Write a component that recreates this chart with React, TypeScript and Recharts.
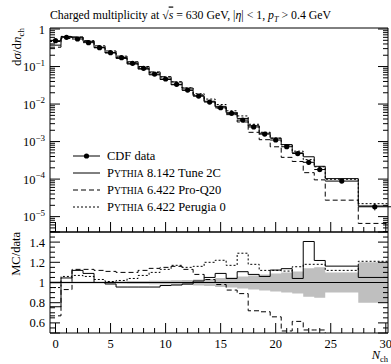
import React from 'react';
import { ComposedChart, Line, Scatter, ErrorBar, XAxis, YAxis, Area, ReferenceLine } from 'recharts';

// ---------- data ----------
const binEdges = [
  -0.5, 0.5, 1.5, 2.5, 3.5, 4.5, 5.5, 6.5, 7.5, 8.5, 9.5, 10.5, 11.5, 12.5, 13.5,
  14.5, 15.5, 16.5, 17.5, 18.5, 19.5, 20.5, 21.5, 22.5, 23.5, 24.5, 27.5, 30.5,
];
const binCenters = [
  0, 1, 2, 3, 4, 5, 6, 7, 8, 9, 10, 11, 12, 13, 14, 15, 16, 17, 18, 19, 20, 21, 22, 23, 24, 26, 29,
];
const cdfData = [
  0.489, 0.6, 0.541, 0.433, 0.318, 0.234, 0.172, 0.122, 0.0895, 0.063, 0.0465, 0.0335, 0.0236,
  0.0163, 0.0113, 0.00796, 0.00565, 0.00374, 0.00245, 0.00158, 0.0011, 0.00073, 0.00048, 0.00028,
  0.00018, 0.0000885, 0.0000183,
];
const cdfRelErr = [
  0.015, 0.01, 0.01, 0.01, 0.01, 0.012, 0.012, 0.015, 0.015, 0.018, 0.02, 0.022, 0.025, 0.03,
  0.035, 0.045, 0.05, 0.06, 0.07, 0.08, 0.09, 0.1, 0.11, 0.14, 0.15, 0.1, 0.2,
];
const ratioTune2C = [
  0.76, 1.045, 1.12, 1.09, 1.0, 0.985, 0.955, 0.955, 0.955, 0.955, 0.97, 0.975, 0.985, 1.015,
  1.05, 1.09, 1.04, 1.107, 1.08, 1.06, 1.123, 1.137, 1.04, 1.406, 1.218, 1.162, 1.05,
];
const ratioProQ20 = [
  0.67, 0.93, 1.13, 1.13, 1.12, 1.11, 1.1, 1.1, 1.12, 1.14, 1.15, 1.16, 1.13, 1.08, 1.03, 0.98,
  0.925, 0.89, 0.72, 0.71, 0.66, 0.52, 0.615, 0.53, 0.53, 0.31, 0.36,
];
const ratioPerugia0 = [
  0.95, 1.06, 1.07, 1.06, 1.03, 1.01, 1.02, 1.04, 1.07, 1.1, 1.13, 1.17, 1.15, 1.16, 1.2, 1.22,
  1.17, 1.29, 1.18, 1.12, 1.12, 1.113, 1.156, 1.18, 1.18, 1.12, 1.21,
];
const xTicks = [0, 1, 2, 3, 4, 5, 6, 7, 8, 9, 10, 11, 12, 13, 14, 15, 16, 17, 18, 19, 20, 21, 22, 23, 24, 25, 26, 27, 28, 29, 30];
const xMajorLabels = ['0', '5', '10', '15', '20', '25', '30'];
const logMajorTicks = [1e-5, 1e-4, 1e-3, 1e-2, 1e-1, 1];
const ratioTicks = [0.5, 0.55, 0.6, 0.65, 0.7, 0.75, 0.8, 0.85, 0.9, 0.95, 1, 1.05, 1.1, 1.15, 1.2, 1.25, 1.3, 1.35, 1.4, 1.45, 1.5];
const ratioLabels = ['0.6', '0.8', '1', '1.2', '1.4'];

// ---------- layout ----------
const W = 391;
const H = 364;
const PL = 50;
const PR = 388;
const TOP = 28;
const MID = 232;
const BOT = 333;
const FONT = "'Liberation Serif', 'DejaVu Serif', serif";
const X_DOMAIN: [number, number] = [-0.5, 30.2];
const LOG_DOMAIN: [number, number] = [Math.pow(10, -5.41), Math.pow(10, 0.027)];

const logTicks: number[] = [];
for (let e = -6; e <= 0; e++) {
  for (let m = 1; m <= 9; m++) {
    const v = m * Math.pow(10, e);
    if (v >= LOG_DOMAIN[0] && v <= LOG_DOMAIN[1]) logTicks.push(v);
  }
}

const stepData = (vals: number[]) =>
  binEdges.map((e, i) => ({ x: e, y: vals[Math.min(i, vals.length - 1)] }));

const mcTop = (ratio: number[]) => stepData(cdfData.map((d, i) => d * ratio[i]));

const topTune = mcTop(ratioTune2C);
const topPro = mcTop(ratioProQ20);
const topPer = mcTop(ratioPerugia0);
const ratTune = stepData(ratioTune2C);
const ratPro = stepData(ratioProQ20);
const ratPer = stepData(ratioPerugia0);
const band = binEdges.map((e, i) => {
  const k = Math.min(i, cdfRelErr.length - 1);
  return { x: e, y: [1 - cdfRelErr[k], 1 + cdfRelErr[k]] };
});
const points = binCenters.map((c, i) => {
  const lo = i < 25 ? c - 0.5 : i === 25 ? 24.5 : 27.5;
  const hi = i < 25 ? c + 0.5 : i === 25 ? 27.5 : 30.5;
  const err = cdfData[i] * cdfRelErr[i];
  return { x: c, y: cdfData[i], ey: [err, err], ex: [c - lo, hi - c] };
});

// ---------- ticks ----------
const isMajorX = (v: number) => xMajorLabels.includes(String(v));

const makeXTick = (dir: 1 | -1, labels: boolean) => (p: any) => {
  const v = p.payload.value;
  const major = isMajorX(v);
  const len = major ? 10 : 5;
  return (
    <g>
      <line x1={p.x} y1={p.y} x2={p.x} y2={p.y + dir * len} stroke="#000" strokeWidth={1} />
      {labels && major && (
        <text x={p.x} y={p.y + 15} textAnchor="middle" fontSize={12.5} fontFamily={FONT} fill="#000">
          {String(v)}
        </text>
      )}
    </g>
  );
};

const isDecade = (v: number) => logMajorTicks.some((m) => Math.abs(m - v) / m < 1e-6);

const makeLogTick = (dir: 1 | -1, labels: boolean) => (p: any) => {
  const v = p.payload.value;
  const major = isDecade(v);
  const len = major ? 10 : 5;
  const e = Math.round(Math.log10(v));
  return (
    <g>
      <line x1={p.x} y1={p.y} x2={p.x + dir * len} y2={p.y} stroke="#000" strokeWidth={1} />
      {labels && major && (
        <text x={p.x - 5} y={p.y + 4.5} textAnchor="end" fontSize={12.5} fontFamily={FONT} fill="#000">
          {e === 0 ? (
            '1'
          ) : (
            <>
              <tspan>10</tspan>
              <tspan dy={-5.5} fontSize={9}>{'\u2212' + Math.abs(e)}</tspan>
            </>
          )}
        </text>
      )}
    </g>
  );
};

const makeRatioTick = (dir: 1 | -1, labels: boolean) => (p: any) => {
  const v = p.payload.value;
  const lbl = ratioLabels.find((l) => Math.abs(parseFloat(l) - v) < 1e-6);
  const major = !!lbl || Math.abs(v - 0.5) < 1e-6 || Math.abs(v - 1.5) < 1e-6;
  const len = major ? 10 : 5;
  return (
    <g>
      <line x1={p.x} y1={p.y} x2={p.x + dir * len} y2={p.y} stroke="#000" strokeWidth={1} />
      {labels && lbl && (
        <text x={p.x - 5} y={p.y + 4.5} textAnchor="end" fontSize={12.5} fontFamily={FONT} fill="#000">
          {lbl}
        </text>
      )}
    </g>
  );
};

const axisLine = { stroke: '#000', strokeWidth: 1 };

const Pythia = ({ rest }: { rest: string }) => (
  <>
    <tspan>P</tspan>
    <tspan fontSize={9.6}>YTHIA</tspan>
    <tspan>{rest}</tspan>
  </>
);

const xAxisCommon = {
  type: 'number' as const,
  domain: X_DOMAIN,
  allowDataOverflow: true,
  ticks: xTicks,
  interval: 0 as const,
  height: 1,
  tickSize: 0,
  tickMargin: 0,
  tickLine: false,
  axisLine,
};

export default function App() {
  const legendRows = [
    { y: 156, label: 'CDF data', dash: undefined as string | undefined, dot: true, py: '' },
    { y: 173, label: '', dash: undefined, dot: false, py: ' 8.142 Tune 2C' },
    { y: 190, label: '', dash: '5 3', dot: false, py: ' 6.422 Pro-Q20' },
    { y: 207, label: '', dash: '2 2', dot: false, py: ' 6.422 Perugia 0' },
  ];
  return (
    <div style={{ position: 'absolute', left: 0, top: 0, width: W, height: H, background: '#fff' }}>
      {/* top panel */}
      <div style={{ position: 'absolute', left: 0, top: 0 }}>
        <ComposedChart
          width={W}
          height={H}
          margin={{ top: TOP - 1, right: W - PR - 1, bottom: H - MID - 1, left: PL - 1 }}
        >
          <XAxis xAxisId="b" dataKey="x" {...xAxisCommon} tick={makeXTick(-1, false)} />
          <XAxis xAxisId="t" orientation="top" {...xAxisCommon} tick={makeXTick(1, false)} />
          <YAxis
            yAxisId="l"
            dataKey="y"
            scale="log"
            type="number"
            domain={LOG_DOMAIN}
            allowDataOverflow
            ticks={logTicks}
            interval={0}
            width={1}
            tickSize={0}
            tickMargin={0}
            tickLine={false}
            axisLine={axisLine}
            tick={makeLogTick(1, true)}
          />
          <YAxis
            yAxisId="r"
            orientation="right"
            scale="log"
            type="number"
            domain={LOG_DOMAIN}
            allowDataOverflow
            ticks={logTicks}
            interval={0}
            width={1}
            tickSize={0}
            tickMargin={0}
            tickLine={false}
            axisLine={axisLine}
            tick={makeLogTick(-1, false)}
          />
          <Line xAxisId="b" yAxisId="l" data={topPer} dataKey="y" type="stepAfter" stroke="#000" strokeWidth={1} strokeDasharray="2 2" dot={false} isAnimationActive={false} />
          <Line xAxisId="b" yAxisId="l" data={topPro} dataKey="y" type="stepAfter" stroke="#000" strokeWidth={1} strokeDasharray="5 3" dot={false} isAnimationActive={false} />
          <Line xAxisId="b" yAxisId="l" data={topTune} dataKey="y" type="stepAfter" stroke="#000" strokeWidth={1} dot={false} isAnimationActive={false} />
          <Scatter
            xAxisId="b"
            yAxisId="l"
            data={points}
            dataKey="y"
            isAnimationActive={false}
            shape={(p: any) => <circle cx={p.cx} cy={p.cy} r={2.6} fill="#000" />}
          >
            <ErrorBar dataKey="ey" direction="y" width={0} stroke="#000" strokeWidth={1} isAnimationActive={false} />
            <ErrorBar dataKey="ex" direction="x" width={0} stroke="#000" strokeWidth={1} isAnimationActive={false} />
          </Scatter>
        </ComposedChart>
      </div>

      {/* ratio panel */}
      <div style={{ position: 'absolute', left: 0, top: 0 }}>
        <ComposedChart
          width={W}
          height={H}
          margin={{ top: MID - 1, right: W - PR - 1, bottom: H - BOT - 1, left: PL - 1 }}
        >
          <XAxis xAxisId="b" dataKey="x" {...xAxisCommon} tick={makeXTick(-1, true)} />
          <XAxis xAxisId="t" orientation="top" {...xAxisCommon} tick={makeXTick(1, false)} />
          <YAxis
            yAxisId="l"
            dataKey="y"
            type="number"
            domain={[0.5, 1.5]}
            allowDataOverflow
            ticks={ratioTicks}
            interval={0}
            width={1}
            tickSize={0}
            tickMargin={0}
            tickLine={false}
            axisLine={axisLine}
            tick={makeRatioTick(1, true)}
          />
          <YAxis
            yAxisId="r"
            orientation="right"
            type="number"
            domain={[0.5, 1.5]}
            allowDataOverflow
            ticks={ratioTicks}
            interval={0}
            width={1}
            tickSize={0}
            tickMargin={0}
            tickLine={false}
            axisLine={axisLine}
            tick={makeRatioTick(-1, false)}
          />
          <Area xAxisId="b" yAxisId="l" data={band} dataKey="y" type="stepAfter" fill="#bfbfbf" fillOpacity={1} stroke="none" isAnimationActive={false} />
          <ReferenceLine xAxisId="b" yAxisId="l" y={1} stroke="#000" strokeWidth={1} />
          <Line xAxisId="b" yAxisId="l" data={ratPer} dataKey="y" type="stepAfter" stroke="#000" strokeWidth={1} strokeDasharray="2 2" dot={false} isAnimationActive={false} />
          <Line xAxisId="b" yAxisId="l" data={ratPro} dataKey="y" type="stepAfter" stroke="#000" strokeWidth={1} strokeDasharray="5 3" dot={false} isAnimationActive={false} />
          <Line xAxisId="b" yAxisId="l" data={ratTune} dataKey="y" type="stepAfter" stroke="#000" strokeWidth={1} dot={false} isAnimationActive={false} />
        </ComposedChart>
      </div>

      {/* labels, title, legend */}
      <svg
        width={W}
        height={H}
        style={{ position: 'absolute', left: 0, top: 0, pointerEvents: 'none' }}
        fontFamily={FONT}
      >
        <text x={50} y={18.5} fontSize={11.8} fill="#000">
          Charged multiplicity at {'\u221A'}
          <tspan fontStyle="italic" textDecoration="overline">s</tspan>
          {' = 630 GeV, |'}
          <tspan fontStyle="italic">{'\u03B7'}</tspan>
          {'| < 1, '}
          <tspan fontStyle="italic">p</tspan>
          <tspan fontStyle="italic" fontSize={8.2} dy={3}>T</tspan>
          <tspan dy={-3}>{' > 0.4 GeV'}</tspan>
        </text>
        <text transform="rotate(-90 21 28)" x={21} y={28} textAnchor="end" fontSize={13} fill="#000">
          d<tspan fontStyle="italic">{'\u03C3'}</tspan>/d<tspan fontStyle="italic">n</tspan>
          <tspan fontSize={9} dy={3}>ch</tspan>
        </text>
        <text transform="rotate(-90 20 232)" x={20} y={232} textAnchor="end" fontSize={12.5} fill="#000">
          MC/data
        </text>
        <text x={388} y={359} textAnchor="end" fontSize={12.5} fill="#000">
          <tspan fontStyle="italic">N</tspan>
          <tspan fontSize={8.5} dy={3}>ch</tspan>
        </text>
        {legendRows.map((r, i) => (
          <g key={i}>
            <line x1={73} x2={100} y1={r.y} y2={r.y} stroke="#000" strokeWidth={1} strokeDasharray={r.dash} />
            {r.dot && <circle cx={86.5} cy={r.y} r={2.6} fill="#000" />}
            <text x={107} y={r.y + 4.2} fontSize={12.5} fill="#000">
              {r.dot ? r.label : <Pythia rest={r.py} />}
            </text>
          </g>
        ))}
      </svg>
    </div>
  );
}
